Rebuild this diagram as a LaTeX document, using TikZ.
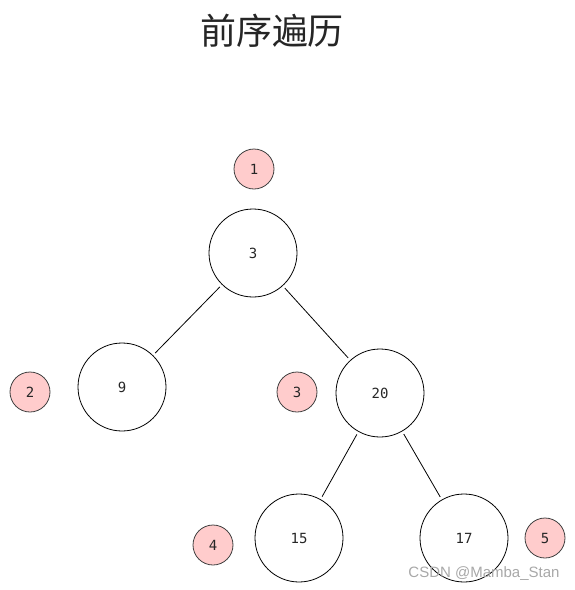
\documentclass[tikz,border=0pt]{standalone}
\usepackage{fontspec}
\newfontfamily\cjk{Noto Sans CJK SC}
\newfontfamily\monofnt{DejaVu Sans Mono}
\newfontfamily\sansfnt{Liberation Sans}
\usetikzlibrary{positioning}
\definecolor{orderpink}{HTML}{FFCCCC}
\definecolor{wmgray}{HTML}{A8A8A8}
\tikzset{
  treenode/.style={circle,draw=black,line width=0.8pt,minimum size=88pt,inner sep=0pt,
    font=\monofnt\fontsize{14}{16}\selectfont,text=black!85},
  ordernode/.style={circle,draw=black!75,fill=orderpink,line width=0.8pt,minimum size=40pt,inner sep=0pt,
    font=\monofnt\fontsize{14}{16}\selectfont,text=black!85},
  treeedge/.style={line width=0.8pt,shorten >=3pt,shorten <=3pt}
}
\begin{document}
\begin{tikzpicture}[x=1pt,y=-1pt]
\useasboundingbox (0,0) rectangle (575,590);
\node[font=\cjk\fontsize{36}{40}\selectfont,text=black!85] (title) at (272,31) {前序遍历};
% tree
\node[treenode] (t3) at (253,253) {3};
\node[treenode] (t9) at (122,387) {9};
\node[treenode] (t20) at (380,393) {20};
\node[treenode] (t15) at (299,538) {15};
\node[treenode] (t17) at (464,538) {17};
\draw[treeedge] (t3) -- (t9);
\draw[treeedge] (t3) -- (t20);
\draw[treeedge] (t20) -- (t15);
\draw[treeedge] (t20) -- (t17);
% visit order
\foreach \k/\x/\y in {1/254/169,2/30/392,3/297/392,4/213/545,5/545/538}
{
\node[ordernode] (o\k) at (\x,\y) {\k};
}
\node[font=\sansfnt\fontsize{15}{17}\selectfont,text=wmgray] (mark) at (484,574) {CSDN @Mamba\_Stan};
\end{tikzpicture}
\end{document}
